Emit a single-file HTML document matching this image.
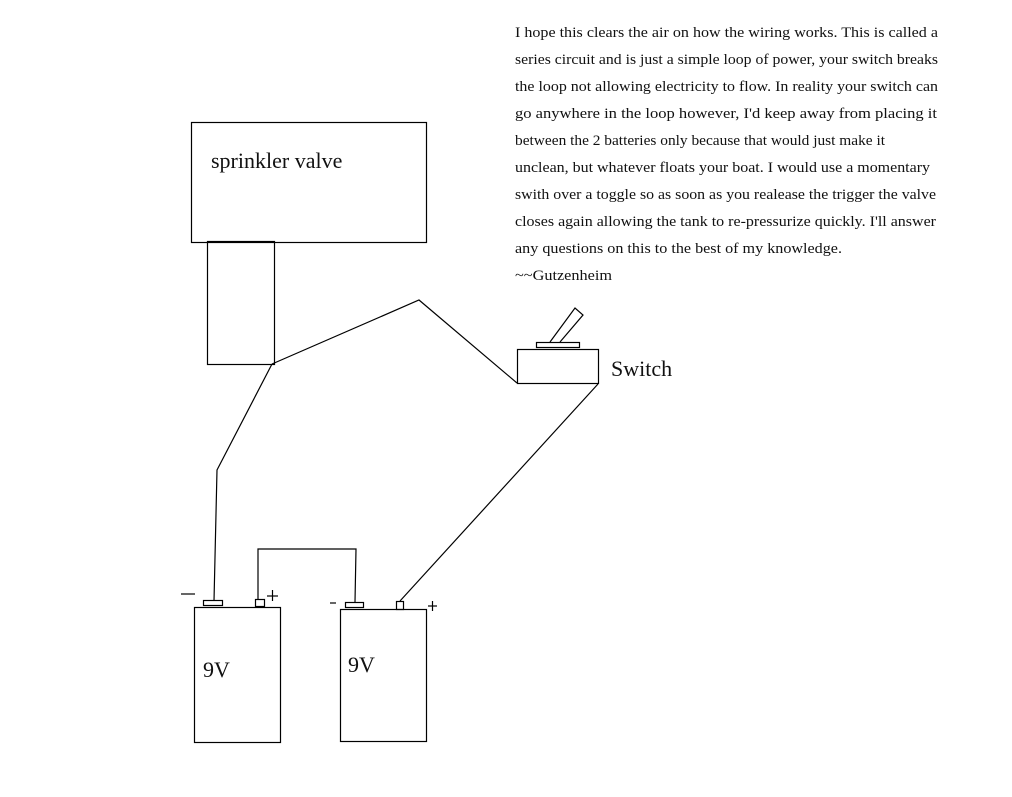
<!DOCTYPE html>
<html><head><meta charset="utf-8"><style>
html,body{margin:0;padding:0;background:#fff;width:1012px;height:797px;overflow:hidden}
svg{display:block}
text{font-family:"Liberation Serif",serif;fill:#111}
</style></head><body>
<svg width="1012" height="797" viewBox="0 0 1012 797" xmlns="http://www.w3.org/2000/svg">
<g fill="none" stroke="#000" stroke-width="1.2">
<rect x="191.5" y="122.5" width="235" height="120"/>
<rect x="207.5" y="241.5" width="67" height="123"/>
<polyline points="272,364 419,300 517,383"/>
<polyline points="272,364 217,470 214,601"/>
<rect x="517.5" y="349.5" width="81" height="34"/>
<rect x="536.5" y="342.5" width="43" height="5"/>
<polyline points="550,342 575,308 583,315 560,342"/>
<line x1="598" y1="384" x2="400" y2="601"/>
<rect x="194.5" y="607.5" width="86" height="135"/>
<rect x="203.5" y="600.5" width="19" height="5"/>
<rect x="255.5" y="599.5" width="9" height="7"/>
<polyline points="258,599 258,549 356,549 355,602"/>
<rect x="340.5" y="609.5" width="86" height="132"/>
<rect x="345.5" y="602.5" width="18" height="5"/>
<rect x="396.5" y="601.5" width="7" height="8"/>
<line x1="181" y1="594" x2="195" y2="594"/>
<line x1="330" y1="603" x2="336" y2="603"/>
<line x1="267" y1="596" x2="278" y2="596"/><line x1="272.5" y1="590" x2="272.5" y2="601"/>
<line x1="428" y1="606" x2="437" y2="606"/><line x1="432.5" y1="601" x2="432.5" y2="611"/>
</g>
<text x="211" y="168" font-size="22">sprinkler valve</text>
<text x="611" y="376" font-size="22">Switch</text>
<text x="203" y="677" font-size="22">9V</text>
<text x="348" y="672" font-size="22">9V</text>
<g font-size="14.5">
<text x="515" y="37" textLength="423" lengthAdjust="spacingAndGlyphs">I hope this clears the air on how the wiring works. This is called a</text>
<text x="515" y="64" textLength="423" lengthAdjust="spacingAndGlyphs">series circuit and is just a simple loop of power, your switch breaks</text>
<text x="515" y="91" textLength="423" lengthAdjust="spacingAndGlyphs">the loop not allowing electricity to flow. In reality your switch can</text>
<text x="515" y="118" textLength="422" lengthAdjust="spacingAndGlyphs">go anywhere in the loop however, I'd keep away from placing it</text>
<text x="515" y="145" textLength="370" lengthAdjust="spacingAndGlyphs">between the 2 batteries only because that would just make it</text>
<text x="515" y="172" textLength="415" lengthAdjust="spacingAndGlyphs">unclean, but whatever floats your boat. I would use a momentary</text>
<text x="515" y="199" textLength="421" lengthAdjust="spacingAndGlyphs">swith over a toggle so as soon as you realease the trigger the valve</text>
<text x="515" y="226" textLength="421" lengthAdjust="spacingAndGlyphs">closes again allowing the tank to re-pressurize quickly. I'll answer</text>
<text x="515" y="253" textLength="327" lengthAdjust="spacingAndGlyphs">any questions on this to the best of my knowledge.</text>
<text x="515" y="280" textLength="97" lengthAdjust="spacingAndGlyphs">~~Gutzenheim</text>
</g>
</svg>
</body></html>
